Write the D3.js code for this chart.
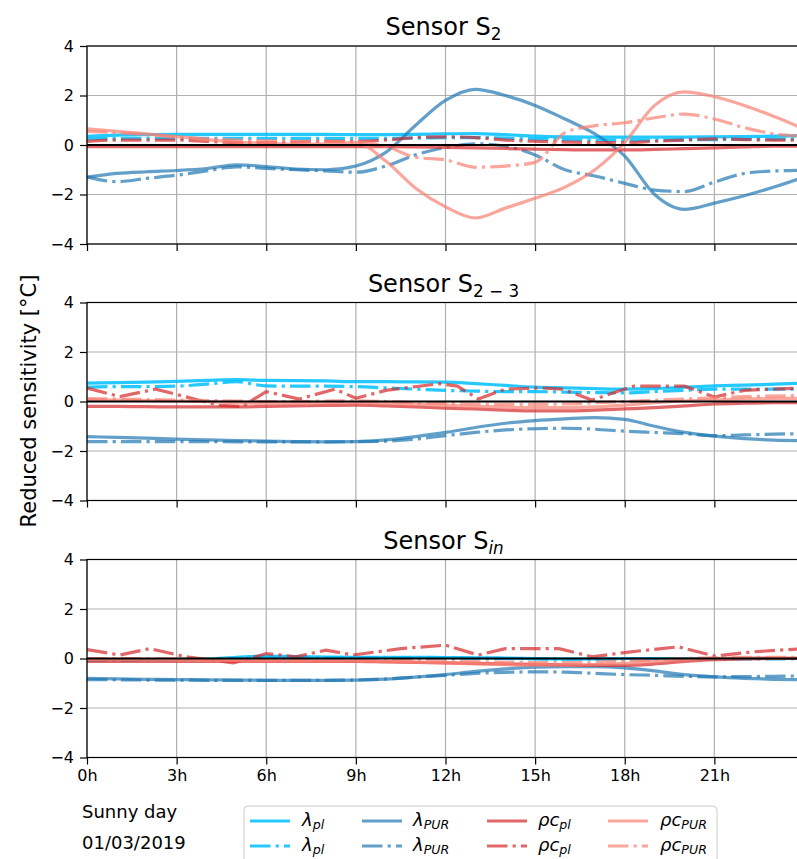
<!DOCTYPE html>
<html>
<head>
<meta charset="utf-8">
<script src="https://cdn.jsdelivr.net/npm/d3@7"></script>
<style>
body { margin: 0; background: #fff; }
svg { display: block; font-family: "DejaVu Sans", sans-serif; }
</style>
</head>
<body>
<div id="chart"></div>
<script>
// hourly grid shared by the smooth series
var hours = [0,1,2,3,4,5,6,7,8,9,10,11,12,13,14,15,16,17,18,19,20,21,22,23,24];
var hourTicks = [0,3,6,9,12,15,18,21,24];
var sensTicks = [-4,-2,0,2,4];

// --- Sensor S2
var s2LambdaPl      = [0.35,0.4,0.42,0.43,0.43,0.43,0.43,0.43,0.43,0.42,0.42,0.43,0.45,0.46,0.42,0.36,0.33,0.32,0.32,0.32,0.32,0.33,0.34,0.36,0.38];
var s2LambdaPlDd    = [0.25,0.26,0.27,0.27,0.27,0.27,0.27,0.27,0.27,0.27,0.27,0.28,0.3,0.3,0.28,0.25,0.22,0.2,0.2,0.2,0.21,0.22,0.23,0.24,0.25];
var s2LambdaPur     = [-1.3,-1.15,-1.08,-1.03,-0.95,-0.8,-0.87,-0.97,-1.0,-0.85,-0.3,0.8,1.8,2.25,2.0,1.6,1.05,0.45,-0.45,-2.0,-2.6,-2.35,-2.05,-1.7,-1.3];
var s2LambdaPurDd   = [-1.3,-1.48,-1.35,-1.22,-1.05,-0.88,-0.95,-1.0,-1.05,-1.1,-0.85,-0.4,-0.1,0.05,-0.05,-0.4,-1.0,-1.25,-1.55,-1.82,-1.88,-1.5,-1.15,-1.05,-1.02];
var s2RhoPl         = [-0.07,-0.07,-0.07,-0.07,-0.07,-0.07,-0.07,-0.07,-0.07,-0.07,-0.07,-0.08,-0.1,-0.12,-0.14,-0.17,-0.19,-0.2,-0.2,-0.18,-0.15,-0.12,-0.08,-0.05,-0.05];
var s2RhoPlDd       = [0.15,0.2,0.2,0.2,0.15,0.1,0.1,0.12,0.15,0.15,0.2,0.3,0.33,0.3,0.2,0.15,0.12,0.1,0.1,0.15,0.2,0.25,0.22,0.2,0.2];
var s2RhoPur        = [0.65,0.55,0.45,0.34,0.22,0.12,0.07,0.03,0.05,0.1,-0.65,-1.75,-2.5,-2.95,-2.55,-2.15,-1.7,-1.0,0.1,1.6,2.15,1.95,1.6,1.15,0.65];
var s2RhoPurDd      = [0.55,0.5,0.42,0.32,0.25,0.2,0.17,0.15,0.15,0.12,-0.05,-0.5,-0.6,-0.9,-0.85,-0.7,0.5,0.78,0.9,1.1,1.25,1.05,0.7,0.45,0.35];

// --- Sensor S2-3
var s23LambdaPl     = [0.74,0.76,0.78,0.81,0.85,0.88,0.85,0.84,0.83,0.8,0.8,0.79,0.78,0.72,0.65,0.58,0.55,0.52,0.5,0.52,0.58,0.63,0.66,0.7,0.74];
var s23LambdaPlDd   = [0.58,0.6,0.6,0.62,0.7,0.8,0.63,0.62,0.62,0.6,0.55,0.5,0.45,0.42,0.4,0.4,0.38,0.36,0.35,0.4,0.45,0.5,0.5,0.5,0.5];
var s23LambdaPur    = [-1.42,-1.45,-1.48,-1.52,-1.55,-1.58,-1.6,-1.62,-1.63,-1.62,-1.55,-1.42,-1.25,-1.05,-0.88,-0.77,-0.7,-0.65,-0.72,-1.0,-1.25,-1.4,-1.5,-1.56,-1.58];
var s23LambdaPurDd  = [-1.62,-1.62,-1.62,-1.62,-1.62,-1.63,-1.63,-1.63,-1.63,-1.62,-1.6,-1.52,-1.38,-1.25,-1.15,-1.1,-1.08,-1.12,-1.2,-1.25,-1.3,-1.38,-1.35,-1.32,-1.3];
var s23RhoPl        = [-0.2,-0.2,-0.21,-0.22,-0.22,-0.22,-0.2,-0.18,-0.16,-0.15,-0.18,-0.22,-0.27,-0.3,-0.35,-0.38,-0.38,-0.35,-0.3,-0.25,-0.18,-0.1,-0.07,-0.05,-0.05];
var s23RhoPlDdHours = [0,1.1,2.3,4.4,5.2,6,7.1,8.3,9,10,11.8,12.4,13.1,14,15.2,15.9,16.9,18.3,20,21,22,24];
var s23RhoPlDd      = [0.54,0.2,0.5,-0.15,-0.2,0.4,0.1,0.5,0.13,0.45,0.72,0.62,0.1,0.5,0.55,0.5,0.06,0.62,0.62,0.18,0.45,0.55];
var s23RhoPur       = [0.08,0.06,0.04,0.02,0.0,-0.05,-0.08,-0.08,-0.06,-0.05,-0.08,-0.12,-0.15,-0.2,-0.23,-0.25,-0.25,-0.22,-0.15,-0.05,0.02,0.06,0.1,0.12,0.13];
var s23RhoPurDd     = [0.12,0.1,0.08,0.06,0.04,0.02,0.0,0.0,0.02,0.03,0.0,-0.05,-0.08,-0.1,-0.12,-0.12,-0.1,-0.05,0.0,0.05,0.1,0.15,0.2,0.22,0.25];

// --- Sensor S_in
var sinLambdaPl     = [-0.05,-0.05,-0.05,-0.04,-0.02,0.05,0.1,0.08,0.06,0.05,0.05,0.05,0.04,0.03,0.02,0.0,-0.02,-0.02,0.0,0.0,0.0,0.0,0.0,0.0,0.0];
var sinLambdaPlDd   = [-0.08,-0.08,-0.08,-0.07,-0.05,0.0,0.05,0.05,0.04,0.03,0.03,0.03,0.02,0.01,0.0,-0.02,-0.03,-0.03,-0.02,-0.02,-0.02,-0.02,-0.02,-0.02,-0.02];
var sinLambdaPur    = [-0.8,-0.82,-0.84,-0.85,-0.86,-0.87,-0.88,-0.88,-0.88,-0.87,-0.83,-0.75,-0.65,-0.52,-0.42,-0.35,-0.33,-0.33,-0.38,-0.5,-0.65,-0.74,-0.8,-0.84,-0.86];
var sinLambdaPurDd  = [-0.85,-0.86,-0.87,-0.87,-0.88,-0.88,-0.88,-0.88,-0.88,-0.87,-0.83,-0.75,-0.68,-0.6,-0.56,-0.54,-0.55,-0.6,-0.65,-0.68,-0.72,-0.74,-0.73,-0.72,-0.7];
var sinRhoPl        = [-0.12,-0.12,-0.12,-0.12,-0.12,-0.12,-0.12,-0.12,-0.12,-0.12,-0.14,-0.16,-0.18,-0.2,-0.22,-0.24,-0.26,-0.28,-0.28,-0.22,-0.12,-0.05,-0.02,0.0,0.0];
var sinRhoPlDdHours = [0,1.1,2.1,3.3,4.9,6,7,8,8.9,10.5,12,13.1,14,15.8,16.9,18.2,19.8,21,22.3,24];
var sinRhoPlDd      = [0.36,0.14,0.4,0.07,-0.18,0.2,0.07,0.34,0.14,0.4,0.54,0.14,0.4,0.4,0.07,0.27,0.47,0.1,0.27,0.4];
var sinRhoPur       = [-0.05,-0.05,-0.06,-0.07,-0.08,-0.09,-0.1,-0.1,-0.1,-0.1,-0.12,-0.15,-0.18,-0.22,-0.25,-0.27,-0.27,-0.25,-0.2,-0.12,-0.05,0.0,0.02,0.03,0.03];
var sinRhoPurDd     = [0.0,0.0,-0.01,-0.02,-0.03,-0.04,-0.05,-0.05,-0.05,-0.05,-0.06,-0.08,-0.1,-0.13,-0.15,-0.17,-0.17,-0.15,-0.1,-0.05,0.0,0.03,0.05,0.05,0.05];

var width = 797, height = 859;
var left = 87, right = 804;
var panelTops = [46, 302.5, 559.5];
var panelH = 198;
var lw = 3.2;
var dashDot = [6.4*lw, 1.6*lw, lw, 1.6*lw].join(",");

var styles = {
	lambdaPl:  {color: "#00bfff", op: 0.85, main: "λ",  sub: "pl"},
	lambdaPur: {color: "#1f77b4", op: 0.7,  main: "λ",  sub: "PUR"},
	rhoPl:     {color: "#d62728", op: 0.7,  main: "ρc", sub: "pl"},
	rhoPur:    {color: "#fa8072", op: 0.7,  main: "ρc", sub: "PUR"}
};

function s(key, dd, ys, xs){
	return {key: key, dd: dd, ys: ys, xs: xs || hours, linear: !!xs};
}

var panels = [
	{sub: "2", italic: false, series: [
		s("lambdaPl", false, s2LambdaPl), s("lambdaPl", true, s2LambdaPlDd),
		s("lambdaPur", false, s2LambdaPur), s("lambdaPur", true, s2LambdaPurDd),
		s("rhoPl", false, s2RhoPl), s("rhoPl", true, s2RhoPlDd),
		s("rhoPur", false, s2RhoPur), s("rhoPur", true, s2RhoPurDd)]},
	{sub: "2 \u2212 3", italic: false, series: [
		s("lambdaPl", false, s23LambdaPl), s("lambdaPl", true, s23LambdaPlDd),
		s("lambdaPur", false, s23LambdaPur), s("lambdaPur", true, s23LambdaPurDd),
		s("rhoPl", false, s23RhoPl), s("rhoPl", true, s23RhoPlDd, s23RhoPlDdHours),
		s("rhoPur", false, s23RhoPur), s("rhoPur", true, s23RhoPurDd)]},
	{sub: "in", italic: true, series: [
		s("lambdaPl", false, sinLambdaPl), s("lambdaPl", true, sinLambdaPlDd),
		s("lambdaPur", false, sinLambdaPur), s("lambdaPur", true, sinLambdaPurDd),
		s("rhoPl", false, sinRhoPl), s("rhoPl", true, sinRhoPlDd, sinRhoPlDdHours),
		s("rhoPur", false, sinRhoPur), s("rhoPur", true, sinRhoPurDd)]}
];

var svg = d3.select("#chart").append("svg")
	.attr("width", width)
	.attr("height", height);
svg.append("rect").attr("width", width).attr("height", height).attr("fill", "#fff");

var x = d3.scaleLinear().domain([0, 24]).range([left, right]);

panels.forEach(function(p, i){
	var top = panelTops[i];
	var y = d3.scaleLinear().domain([-4, 4]).range([top + panelH, top]);
	var g = svg.append("g");

	svg.append("clipPath").attr("id", "clip" + i)
		.append("rect").attr("x", left).attr("y", top).attr("width", right - left).attr("height", panelH);

	// grid
	g.selectAll(".vg").data(hourTicks).enter().append("line")
		.attr("x1", function(d){ return x(d); }).attr("x2", function(d){ return x(d); })
		.attr("y1", top).attr("y2", top + panelH)
		.attr("stroke", "#b0b0b0").attr("stroke-width", 1.2);
	g.selectAll(".hg").data(sensTicks).enter().append("line")
		.attr("x1", left).attr("x2", right)
		.attr("y1", function(d){ return y(d); }).attr("y2", function(d){ return y(d); })
		.attr("stroke", "#b0b0b0").attr("stroke-width", 1.2);

	// series
	var lines = g.append("g").attr("clip-path", "url(#clip" + i + ")");
	p.series.forEach(function(se){
		var st = styles[se.key];
		var pts = se.xs.map(function(h, k){ return [h, se.ys[k]]; });
		var line = d3.line()
			.x(function(d){ return x(d[0]); })
			.y(function(d){ return y(d[1]); })
			.curve(se.linear ? d3.curveLinear : d3.curveMonotoneX);
		lines.append("path")
			.attr("d", line(pts))
			.attr("fill", "none")
			.attr("stroke", st.color)
			.attr("stroke-opacity", st.op)
			.attr("stroke-width", lw)
			.attr("stroke-dasharray", se.dd ? dashDot : null);
	});
	lines.append("line")
		.attr("x1", left).attr("x2", right)
		.attr("y1", y(0)).attr("y2", y(0))
		.attr("stroke", "#000").attr("stroke-width", 2.2);

	// frame
	g.append("rect")
		.attr("x", left).attr("y", top).attr("width", right - left).attr("height", panelH)
		.attr("fill", "none").attr("stroke", "#000").attr("stroke-width", 1.2);

	// axes (the 24h label falls past the picture edge, so only ticks up to 21h carry text)
	var ya = g.append("g").attr("transform", "translate(" + left + ",0)")
		.call(d3.axisLeft(y).tickValues(sensTicks).tickSize(7).tickPadding(6).tickSizeOuter(0));
	var xa = g.append("g").attr("transform", "translate(0," + (top + panelH) + ")")
		.call(d3.axisBottom(x).tickValues(hourTicks).tickSize(7).tickPadding(5).tickSizeOuter(0)
			.tickFormat(function(d){ return (i === 2 && d < 24) ? d + "h" : ""; }));
	[ya, xa].forEach(function(a){
		a.select(".domain").remove();
		a.selectAll("line").attr("stroke", "#000").attr("stroke-width", 1.2);
		a.selectAll("text").attr("font-family", "DejaVu Sans").attr("font-size", 16).attr("fill", "#000");
	});

	// title
	var t = svg.append("text")
		.attr("x", (left + right) / 2 - 2)
		.attr("y", top - 11)
		.attr("text-anchor", "middle")
		.attr("font-size", 24)
		.text("Sensor S");
	t.append("tspan")
		.attr("dy", "0.3em")
		.attr("font-size", "0.7em")
		.attr("font-style", p.italic ? "italic" : null)
		.text(p.sub);
});

// y label
svg.append("text")
	.attr("transform", "translate(36,401) rotate(-90)")
	.attr("text-anchor", "middle")
	.attr("font-size", 21)
	.text("Reduced sensitivity [\u00b0C]");

// footer notes
svg.append("text").attr("x", 82).attr("y", 818).attr("font-size", 18).text("Sunny day");
svg.append("text").attr("x", 82).attr("y", 849).attr("font-size", 18).text("01/03/2019");

// legend
var legendKeys = ["lambdaPl", "lambdaPur", "rhoPl", "rhoPur"];
var legLineX = [250, 362, 487, 608];
var legTextX = [302, 413, 538, 660];
var legRowY = [821, 846];

svg.append("rect")
	.attr("x", 244).attr("y", 806).attr("width", 473).attr("height", 70).attr("rx", 4)
	.attr("fill", "#fff").attr("stroke", "#cccccc").attr("stroke-width", 1);

legendKeys.forEach(function(k, c){
	var st = styles[k];
	[false, true].forEach(function(dd, r){
		svg.append("line")
			.attr("x1", legLineX[c]).attr("x2", legLineX[c] + 40)
			.attr("y1", legRowY[r]).attr("y2", legRowY[r])
			.attr("stroke", st.color).attr("stroke-opacity", st.op)
			.attr("stroke-width", lw)
			.attr("stroke-dasharray", dd ? dashDot : null);
		var t = svg.append("text")
			.attr("x", legTextX[c]).attr("y", legRowY[r] + 5)
			.attr("font-size", 18).attr("font-style", "italic")
			.text(st.main);
		t.append("tspan").attr("dy", "0.25em").attr("font-size", "0.7em").text(st.sub);
	});
});
</script>
</body>
</html>
